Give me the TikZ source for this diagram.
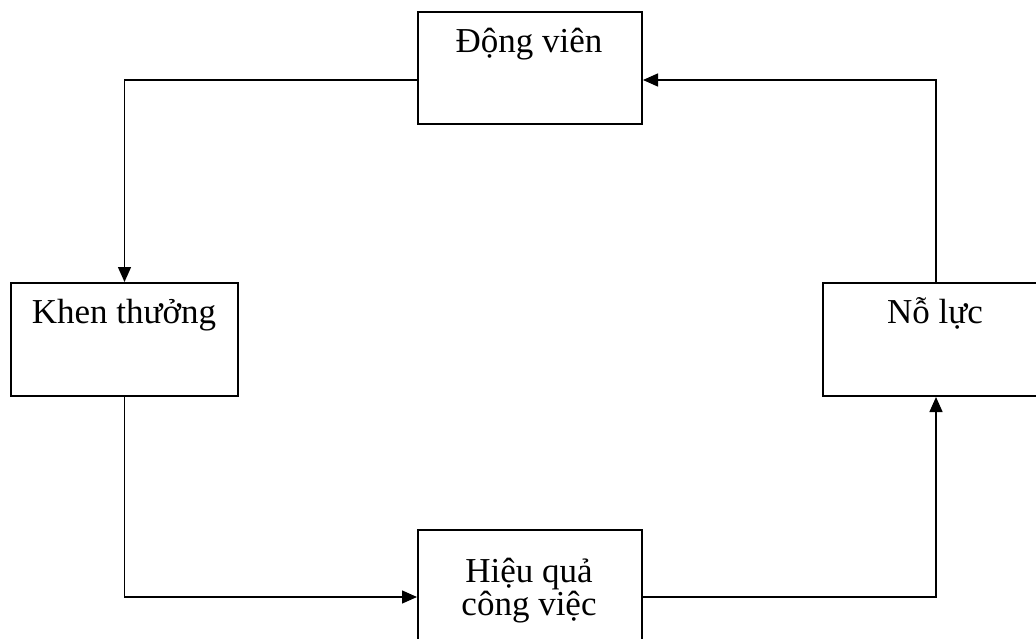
\documentclass[tikz,border=0pt]{standalone}
\usepackage{fontspec}
\setmainfont{Liberation Serif}
\usetikzlibrary{arrows.meta}
\begin{document}
\begin{tikzpicture}[x=1pt,y=-1pt,
  box/.style={draw,line width=2pt,minimum width=#1,inner sep=0pt,anchor=north west},
  lbl/.style={font=\fontsize{35}{33}\selectfont,anchor=base,inner sep=0pt,align=center},
  conn/.style={line width=1.4pt,-{Triangle[length=15pt,width=13pt]}}]
\clip (0,0) rectangle (1036,639);
\fill[white] (0,0) rectangle (1036,639);
% boxes
\node[box=224pt,minimum height=112pt] (dv) at (417,11) {};
\node[box=227pt,minimum height=113pt] (kt) at (10,282) {};
\node[box=226pt,minimum height=113pt] (nl) at (822,282) {};
\node[box=224pt,minimum height=140pt] (hq) at (417,529) {};
% labels
\node[lbl] (tdv) at (529,53) {Động viên};
\node[lbl] (tkt) at (124,323) {Khen thưởng};
\node[lbl] (tnl) at (935,323) {Nỗ lực};
\node[lbl] (thq1) at (529,582) {Hiệu quả};
\node[lbl] (thq2) at (529,615) {công việc};
% helper coordinates
\coordinate (ytop) at (0,80);
\coordinate (ybot) at (0,597);
% connectors
\draw[conn] (dv.west |- ytop) -| (kt.north);
\draw[conn] (kt.south) |- (hq.west |- ybot);
\draw[conn] (hq.east |- ybot) -| (nl.south);
\draw[conn] (nl.north) |- (dv.east |- ytop);
\end{tikzpicture}
\end{document}
